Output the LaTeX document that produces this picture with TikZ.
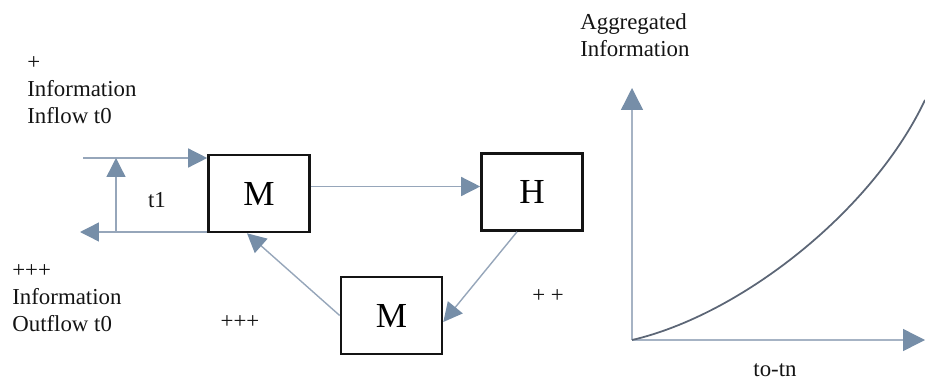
\documentclass[tikz,border=0pt]{standalone}
\usepackage{fontspec}
\setmainfont{Liberation Serif}
\usetikzlibrary{
    arrows.meta,
    calc,
    positioning
}
\definecolor{ink}{RGB}{20,20,20}
\definecolor{flowline}{RGB}{150,166,186}
\definecolor{flowtip}{RGB}{118,142,168}
\definecolor{curveline}{RGB}{92,102,118}
\tikzset{
    line join=round,
    agent/.style={
        rectangle,
        draw=ink,
        line width=1.5pt,
        fill=white,
        minimum width=2.02cm,
        minimum height=1.54cm,
        inner sep=0pt,
        font=\fontsize{20}{24}\selectfont
    },
    flow/.style={
        -{Triangle[length=0.38cm, width=0.38cm, color=flowtip]},
        draw=flowline,
        line width=0.8pt
    },
    axis/.style={
        -{Triangle[length=0.44cm, width=0.44cm, color=flowtip]},
        draw=flowline!85,
        line width=0.8pt
    },
    growth/.style={
        draw=curveline,
        line width=1pt
    },
    annot/.style={
        font=\fontsize{13}{15.4}\selectfont,
        text=ink,
        inner sep=0pt,
        align=left
    }
}

\begin{document}
\begin{tikzpicture}[x=0.02cm, y=-0.02cm]
\useasboundingbox (0,0) rectangle (925,385);

% agents
\node[agent] (M1) at (259,193.5) {M};
\node[agent] (H)  at (532,192) {H};
\node[agent] (M2) at (391.5,315.5) {M};

% inflow / outflow at the first agent
\coordinate (in)  at (83,158);
\coordinate (out) at (80,232);
\coordinate (up)  at (116,232);
\draw[flow] (in) -- (in -| M1.west);
\draw[flow] (out -| M1.west) -- (out);
\draw[flow] (up) -- (up |- in);
\node[annot] (t1) at (157,200) {t1};

% exchange between agents
\draw[flow] ([yshift=0.14cm]M1.east) -- ([yshift=0.14cm]M1.east -| H.west);
\draw[flow] ([xshift=-0.3cm]H.south) -- ([yshift=-0.13cm]M2.east);
\draw[flow] (M2.west) -- ([xshift=-0.24cm]M1.south);

\node[annot, anchor=west] (inlabel) at (27,90) {+\\Information\\Inflow t0};
\node[annot, anchor=west] (outlabel) at (12,298) {+++\\Information\\Outflow t0};
\node[annot] (plus3) at (240,322) {+++};
\node[annot] (plus2) at (548,296) {+ +};

% aggregated information over time
\coordinate (O)  at (632,340);
\coordinate (ytop) at (632,88);
\coordinate (xend) at (925,340);
\draw[axis] (O) -- (ytop);
\draw[axis] (O) -- (xend);
\draw[growth] (O) .. controls (740,315) and (872,212) .. (925,100);

\node[annot, anchor=west] (ylabel) at (580,35) {Aggregated\\Information};
\node[annot] (xlabel) at (775,370) {to-tn};

\end{tikzpicture}
\end{document}
